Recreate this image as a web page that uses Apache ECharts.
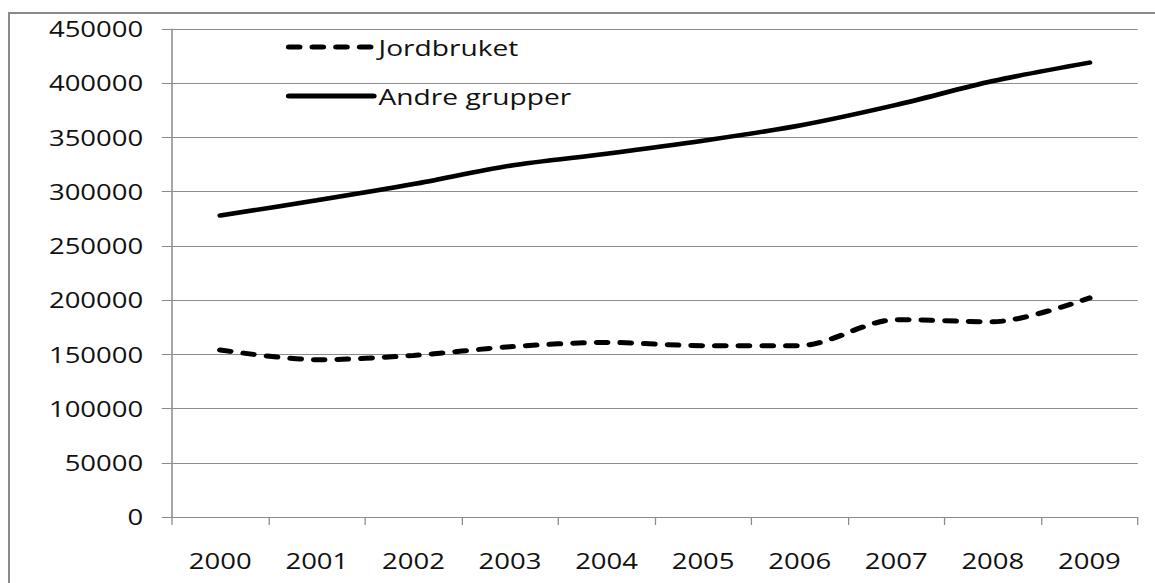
<!DOCTYPE html>
<html lang="no">

<head>
    <meta charset="UTF-8">
    <title>Jordbruket og andre grupper</title>
    <script src="https://cdn.jsdelivr.net/npm/echarts/dist/echarts.min.js"></script>
    <style>
        body {
            margin: 0;
            width: 1155px;
            height: 583px;
            overflow: hidden;
            background: #fff;
            position: relative;
        }

        /* frame of the original chart, cut off at right and bottom */
        .frame {
            position: absolute;
            left: 8px;
            top: 12px;
            width: 1300px;
            height: 700px;
            border-left: 2px solid #8a8a8a;
            border-top: 2px solid #8a8a8a;
        }

        /* the source picture is stretched sideways, so the chart is too */
        #chart {
            position: absolute;
            left: 0;
            top: 0;
            width: 903px;
            height: 583px;
            transform: scaleX(1.279);
            transform-origin: 0 0;
        }
    </style>
</head>

<body>
    <div class="frame"></div>
    <div id="chart"></div>

    <script>
        const years = ['2000', '2001', '2002', '2003', '2004', '2005', '2006', '2007', '2008', '2009'];
        const jordbruket = [154000, 145000, 149000, 157000, 161000, 158000, 158000, 182000, 180000, 202000];
        const andreGrupper = [278000, 292000, 307000, 324000, 335000, 347000, 361000, 380000, 402000, 419000];

        const font = 'Open Sans';
        const gray = '#8c8c8c';

        const chart = echarts.init(document.getElementById('chart'), null, { renderer: 'svg' });
        chart.setOption({
            animation: false,
            grid: { left: 134.5, right: 13.5, top: 29, bottom: 66 },
            legend: {
                orient: 'vertical',
                left: 218.5,
                top: 31,
                itemWidth: 66,
                itemHeight: 14,
                itemGap: 27,
                itemStyle: { opacity: 0 },
                lineStyle: { width: 5, cap: 'round' },
                textStyle: { fontFamily: font, fontSize: 22, color: '#111', padding: [0, 0, 0, -1] },
                data: ['Jordbruket', 'Andre grupper']
            },
            xAxis: {
                type: 'category',
                data: years,
                boundaryGap: true,
                axisLine: { lineStyle: { color: gray, width: 1.2 } },
                axisTick: { show: true, length: 8, lineStyle: { color: gray } },
                axisLabel: { fontFamily: font, fontSize: 21.5, color: '#111', margin: 33 }
            },
            yAxis: {
                type: 'value',
                min: 0,
                max: 450000,
                interval: 50000,
                axisLine: { show: true, lineStyle: { color: gray, width: 1.2 } },
                axisTick: { show: true, length: 8, lineStyle: { color: gray } },
                axisLabel: {
                    fontFamily: font, fontSize: 21.5, color: '#111', margin: 22.5,
                    formatter: v => String(v)
                },
                splitLine: { lineStyle: { color: gray, width: 1.2 } }
            },
            series: [
                {
                    name: 'Jordbruket',
                    type: 'line',
                    data: jordbruket,
                    smooth: 0.3,
                    symbol: 'none',
                    lineStyle: { color: '#000', width: 5, type: [8, 10.5], cap: 'round' },
                    itemStyle: { color: '#000' }
                },
                {
                    name: 'Andre grupper',
                    type: 'line',
                    data: andreGrupper,
                    smooth: 0.3,
                    symbol: 'none',
                    lineStyle: { color: '#000', width: 4.6, cap: 'round' },
                    itemStyle: { color: '#000' }
                }
            ]
        });
    </script>
</body>

</html>
